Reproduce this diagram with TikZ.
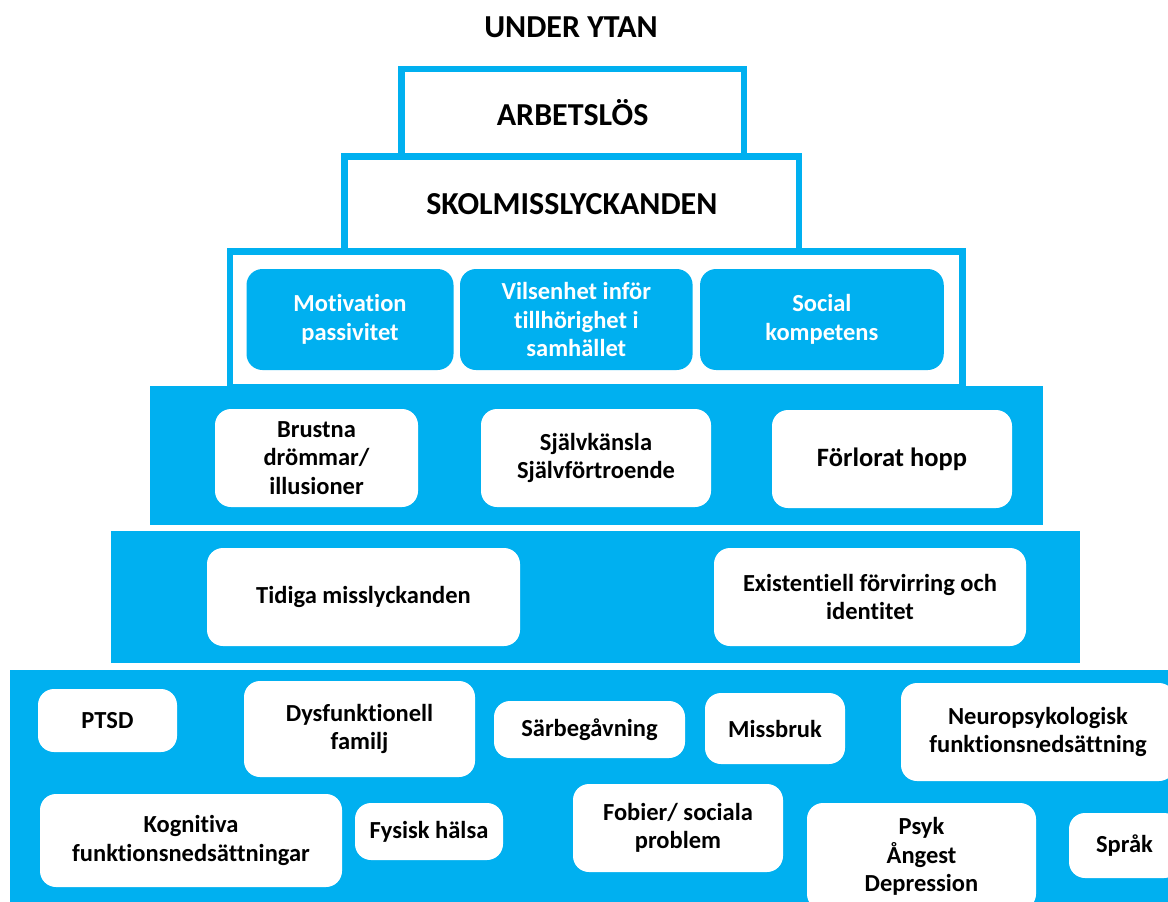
\documentclass[tikz,border=0pt]{standalone}
\usepackage{fontspec}
\setmainfont{Carlito}[Ligatures={NoCommon}]
\definecolor{skyblue}{HTML}{00B0F0}
\begin{document}
\begin{tikzpicture}[x=1pt,y=-1pt,
  txt/.style={font=\fontsize{24.5}{28.5}\selectfont\bfseries, align=center},
  bigtxt/.style={font=\fontsize{32}{36}\selectfont\bfseries, align=center},
  tierbox/.style={draw=skyblue, line width=6.5pt, inner sep=0pt, bigtxt},
  band/.style={fill=skyblue, draw=none},
  bluebox/.style={txt, fill=skyblue, draw=none, rounded corners=16pt, text=white, inner sep=0pt},
  whitebox/.style={txt, fill=white, draw=none, rounded corners=16pt, inner sep=0pt},
]
\useasboundingbox (0,0) rectangle (1168,902);
\clip (0,0) rectangle (1168,902);

% heading
\node[bigtxt] (title) at (571,27) {UNDER YTAN};

% outlined upper tiers
\node[tierbox, minimum width=732.7pt, minimum height=135.5pt] (tier3) at (596.2,319.3) {};
\node[tierbox, minimum width=454.5pt, minimum height=95.2pt] (tier2) at (571.8,203.9) {SKOLMISSLYCKANDEN};
\node[tierbox, minimum width=342.6pt, minimum height=86.6pt] (tier1) at (572.6,112.5) {ARBETSLÖS};

% blue boxes inside the third tier
\node[bluebox, minimum width=207pt, minimum height=101pt] (motiv) at (350,319.5) {Motivation\\passivitet};
\node[bluebox, minimum width=232.6pt, minimum height=101pt] (vilse) at (576.3,319.5) {Vilsenhet inför\\tillhörighet i\\samhället};
\node[bluebox, minimum width=243.7pt, minimum height=101pt] (social) at (821.9,319.5) {Social\\kompetens};

% solid tiers
\fill[band] (150,386) rectangle (1043,525);
\node[whitebox, minimum width=203pt, minimum height=98pt] (brustna) at (316.5,458) {Brustna\\drömmar/\\illusioner};
\node[whitebox, minimum width=230pt, minimum height=98pt] (sjalv) at (596,458) {Självkänsla\\Självförtroende};
\node[whitebox, minimum width=240pt, minimum height=98pt, font=\fontsize{26.5}{30}\selectfont\bfseries] (hopp) at (892,459) {Förlorat hopp};

\fill[band] (111,531) rectangle (1080,663);
\node[whitebox, minimum width=313pt, minimum height=98pt] (tidiga) at (363.5,597) {Tidiga misslyckanden};
\node[whitebox, minimum width=312pt, minimum height=98pt] (exist) at (870,597) {Existentiell förvirring och\\identitet};

\fill[band] (10,670) rectangle (1175,910);
\node[whitebox, minimum width=139pt, minimum height=63pt] (ptsd) at (107.5,720.5) {PTSD};
\node[whitebox, minimum width=231pt, minimum height=96pt] (dysf) at (359.5,729) {Dysfunktionell\\familj};
\node[whitebox, minimum width=191pt, minimum height=57pt] (sarb) at (589.5,729.5) {Särbegåvning};
\node[whitebox, minimum width=140pt, minimum height=71pt] (missb) at (775,728.5) {Missbruk};
\node[whitebox, minimum width=274pt, minimum height=98pt] (neuro) at (1038,732) {Neuropsykologisk\\funktionsnedsättning};
\node[whitebox, minimum width=302pt, minimum height=93pt] (kogn) at (191,840.5) {Kognitiva\\funktionsnedsättningar};
\node[whitebox, minimum width=148pt, minimum height=57pt] (fysisk) at (429,831.5) {Fysisk hälsa};
\node[whitebox, minimum width=210pt, minimum height=88pt] (fobier) at (678,828) {Fobier/ sociala\\problem};
\node[whitebox, minimum width=229pt, minimum height=107pt] (psyk) at (921.5,856.5) {Psyk\\Ångest\\Depression};
\node[whitebox, minimum width=111pt, minimum height=65pt] (sprak) at (1124.5,845.5) {Språk};
\end{tikzpicture}
\end{document}
